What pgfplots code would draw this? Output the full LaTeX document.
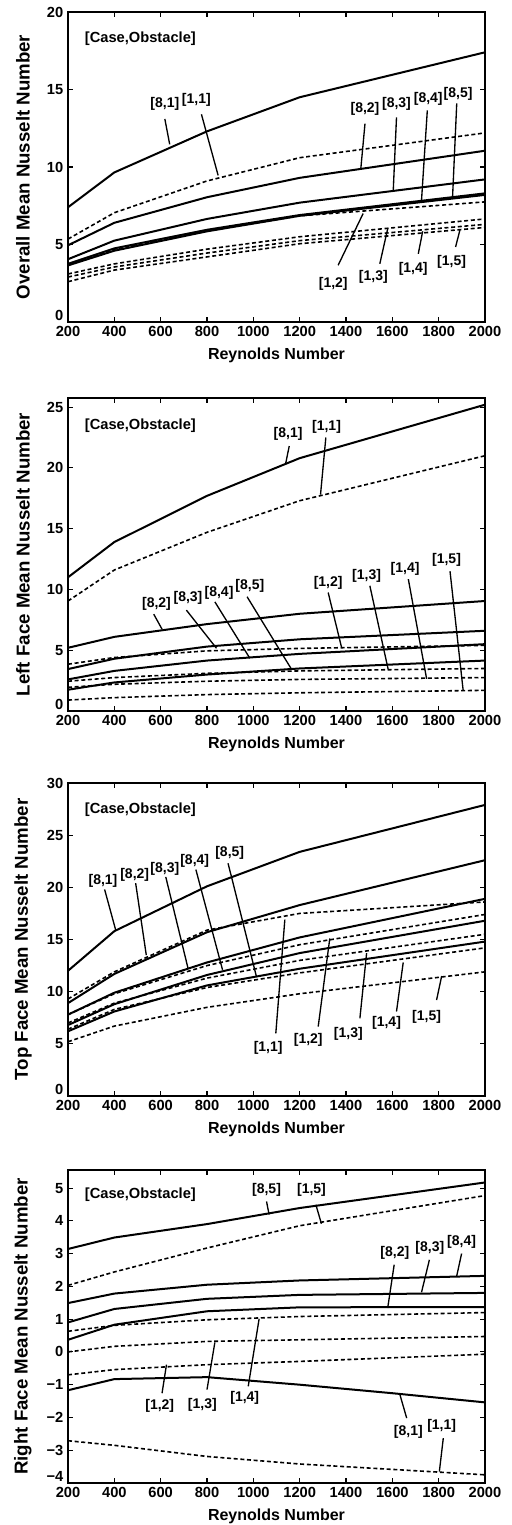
\documentclass[border=0pt]{standalone}
\usepackage{fontspec}
\setmainfont{Liberation Sans}
\usepackage{pgfplots}
\pgfplotsset{compat=1.18}
\tikzset{
 lead/.style={black, line width=1pt},
 lab/.style={font=\fontsize{10.5}{10.5}\selectfont\bfseries, inner sep=0pt},
 case/.style={font=\fontsize{11}{11}\selectfont\bfseries, inner sep=0pt, anchor=west},
}
\pgfplotsset{
 panel/.style={
  anchor=north west, scale only axis, width=312.75pt,
  xmin=200,xmax=2000, xtick={200,400,...,2000},
  axis line style={line width=1.3pt},
  tick style={line width=0.8pt, black}, major tick length=4pt,
  /pgf/number format/assume math mode=true,
  /pgf/number format/1000 sep={},
  tick label style={font=\fontsize{11}{11}\selectfont\bfseries},
  extra y tick style={yticklabel style={yshift=5pt}},
  xlabel={Reynolds Number},
  xlabel style={font=\fontsize{12}{12}\selectfont\bfseries, at={(axis description cs:0.5,-0.106)}, anchor=center},
  ylabel style={font=\fontsize{14}{14}\selectfont\bfseries, at={(axis description cs:-0.108,0.5)}, anchor=center},
  clip=false,
 },
 sol/.style={black, line width=1.5pt, no marks},
 das/.style={black, line width=1.2pt, dash pattern=on 3pt off 2pt, no marks},
}
\begin{document}
\begin{tikzpicture}
\path[use as bounding box] (0pt,0pt) rectangle (383.25pt,-1143.75pt);
% ---------------- Panel 1 ----------------
\begin{axis}[panel, at={(51pt,-9pt)}, height=232.5pt, ymin=0, ymax=20, ytick={5,10,15,20},
  extra y ticks={0},
  ylabel={Overall Mean Nusselt Number}]
\addplot[sol] coordinates {(200,7.4) (400,9.65) (800,12.3) (1200,14.5) (2000,17.4)};
\addplot[sol] coordinates {(200,4.95) (400,6.4) (800,8.05) (1200,9.3) (2000,11.05)};
\addplot[sol] coordinates {(200,4.05) (400,5.25) (800,6.65) (1200,7.7) (2000,9.2)};
\addplot[sol] coordinates {(200,3.75) (400,4.75) (800,5.95) (1200,6.9) (2000,8.3)};
\addplot[sol] coordinates {(200,3.65) (400,4.6) (800,5.85) (1200,6.85) (2000,8.2)};
\addplot[das] coordinates {(200,5.35) (400,7.05) (800,9.1) (1200,10.6) (2000,12.2)};
\addplot[das] coordinates {(200,3.7) (400,4.7) (800,5.9) (1200,6.85) (2000,7.75)};
\addplot[das] coordinates {(200,3.1) (400,3.75) (800,4.7) (1200,5.5) (2000,6.65)};
\addplot[das] coordinates {(200,2.9) (400,3.55) (800,4.45) (1200,5.25) (2000,6.3)};
\addplot[das] coordinates {(200,2.6) (400,3.35) (800,4.2) (1200,5.05) (2000,6.1)};
\node[case] at (axis cs:272,18.3) {[Case,Obstacle]};
\node[lab] at (axis cs:618,14.1) {[8,1]};
\draw[lead] (axis cs:618,13.1) -- (axis cs:639,11.46);
\node[lab] at (axis cs:754,14.3) {[1,1]};
\draw[lead] (axis cs:776,13.4) -- (axis cs:848,9.46);
\node[lab] at (axis cs:1482,13.76) {[8,2]};
\draw[lead] (axis cs:1482,12.8) -- (axis cs:1464,9.9);
\node[lab] at (axis cs:1618,14.1) {[8,3]};
\draw[lead] (axis cs:1618,13.2) -- (axis cs:1604,8.5);
\node[lab] at (axis cs:1755,14.4) {[8,4]};
\draw[lead] (axis cs:1751,13.65) -- (axis cs:1726,7.85);
\node[lab] at (axis cs:1884,14.7) {[8,5]};
\draw[lead] (axis cs:1878,14.1) -- (axis cs:1860,8.06);
\node[lab] at (axis cs:1345,2.47) {[1,2]};
\draw[lead] (axis cs:1366,3.66) -- (axis cs:1474,7.0);
\node[lab] at (axis cs:1518,2.9) {[1,3]};
\draw[lead] (axis cs:1546,3.76) -- (axis cs:1580,6.02);
\node[lab] at (axis cs:1690,3.44) {[1,4]};
\draw[lead] (axis cs:1712,4.4) -- (axis cs:1731,5.85);
\node[lab] at (axis cs:1856,3.87) {[1,5]};
\draw[lead] (axis cs:1873,4.84) -- (axis cs:1892,5.95);
\end{axis}
% ---------------- Panel 2 ----------------
\begin{axis}[panel, at={(51pt,-298.5pt)}, height=234.75pt, ymin=0, ymax=25.75, ytick={5,10,...,25},
  extra y ticks={0},
  ylabel={Left Face Mean Nusselt Number}]
\addplot[sol] coordinates {(200,11.0) (400,13.9) (800,17.7) (1200,20.8) (2000,25.2)};
\addplot[das] coordinates {(200,9.05) (400,11.6) (800,14.7) (1200,17.3) (2000,21.0)};
\addplot[sol] coordinates {(200,5.2) (400,6.1) (800,7.15) (1200,8.0) (2000,9.05)};
\addplot[sol] coordinates {(200,3.45) (400,4.3) (800,5.3) (1200,5.9) (2000,6.6)};
\addplot[sol] coordinates {(200,2.6) (400,3.3) (800,4.15) (1200,4.7) (2000,5.5)};
\addplot[sol] coordinates {(200,1.75) (400,2.35) (800,3.0) (1200,3.5) (2000,4.15)};
\addplot[das] coordinates {(200,3.85) (400,4.4) (800,4.95) (1200,5.15) (2000,5.4)};
\addplot[das] coordinates {(200,2.45) (400,2.75) (800,3.1) (1200,3.3) (2000,3.5)};
\addplot[das] coordinates {(200,1.95) (400,2.2) (800,2.45) (1200,2.6) (2000,2.75)};
\addplot[das] coordinates {(200,0.9) (400,1.1) (800,1.35) (1200,1.5) (2000,1.7)};
\node[case] at (axis cs:272,23.5) {[Case,Obstacle]};
\node[lab] at (axis cs:1150,22.8) {[8,1]};
\draw[lead] (axis cs:1155,21.8) -- (axis cs:1140,20.4);
\node[lab] at (axis cs:1316,23.35) {[1,1]};
\draw[lead] (axis cs:1313,22.5) -- (axis cs:1290,17.8);
\node[lab] at (axis cs:582,8.8) {[8,2]};
\draw[lead] (axis cs:570,7.97) -- (axis cs:606,6.73);
\node[lab] at (axis cs:718,9.34) {[8,3]};
\draw[lead] (axis cs:711,8.3) -- (axis cs:841,5.16);
\node[lab] at (axis cs:852,9.75) {[8,4]};
\draw[lead] (axis cs:834,8.98) -- (axis cs:985,4.34);
\node[lab] at (axis cs:985,10.3) {[8,5]};
\draw[lead] (axis cs:973,9.4) -- (axis cs:1165,3.43);
\node[lab] at (axis cs:1323,10.58) {[1,2]};
\draw[lead] (axis cs:1323,9.75) -- (axis cs:1381,5.22);
\node[lab] at (axis cs:1489,11.1) {[1,3]};
\draw[lead] (axis cs:1503,10.3) -- (axis cs:1582,3.43);
\node[lab] at (axis cs:1655,11.7) {[1,4]};
\draw[lead] (axis cs:1669,10.85) -- (axis cs:1748,2.65);
\node[lab] at (axis cs:1834,12.4) {[1,5]};
\draw[lead] (axis cs:1849,11.5) -- (axis cs:1906,1.65);
\end{axis}
% ---------------- Panel 3 ----------------
\begin{axis}[panel, at={(51pt,-587.25pt)}, height=234.75pt, ymin=0, ymax=30, ytick={5,10,...,30},
  extra y ticks={0},
  ylabel={Top Face Mean Nusselt Number}]
\addplot[sol] coordinates {(200,12.0) (400,15.8) (800,20.1) (1200,23.4) (2000,27.9)};
\addplot[sol] coordinates {(200,8.9) (400,11.7) (800,15.7) (1200,18.3) (2000,22.6)};
\addplot[sol] coordinates {(200,7.8) (400,9.9) (800,12.8) (1200,15.2) (2000,18.9)};
\addplot[sol] coordinates {(200,6.8) (400,8.8) (800,11.6) (1200,13.7) (2000,16.8)};
\addplot[sol] coordinates {(200,6.2) (400,8.1) (800,10.6) (1200,12.2) (2000,14.8)};
\addplot[das] coordinates {(200,9.3) (400,11.9) (800,15.9) (1200,17.5) (2000,18.6)};
\addplot[das] coordinates {(200,7.8) (400,9.8) (800,12.5) (1200,14.5) (2000,17.4)};
\addplot[das] coordinates {(200,7.0) (400,8.9) (800,11.3) (1200,13.0) (2000,15.5)};
\addplot[das] coordinates {(200,6.4) (400,8.3) (800,10.4) (1200,11.8) (2000,14.2)};
\addplot[das] coordinates {(200,5.2) (400,6.7) (800,8.5) (1200,9.8) (2000,11.9)};
\node[case] at (axis cs:272,27.4) {[Case,Obstacle]};
\node[lab] at (axis cs:351,20.6) {[8,1]};
\draw[lead] (axis cs:358,19.8) -- (axis cs:406,15.9);
\node[lab] at (axis cs:488,21.2) {[8,2]};
\draw[lead] (axis cs:492,20.4) -- (axis cs:538,13.5);
\node[lab] at (axis cs:618,21.8) {[8,3]};
\draw[lead] (axis cs:622,21.0) -- (axis cs:718,12.25);
\node[lab] at (axis cs:747,22.5) {[8,4]};
\draw[lead] (axis cs:752,21.7) -- (axis cs:867,12.1);
\node[lab] at (axis cs:898,23.3) {[8,5]};
\draw[lead] (axis cs:891,22.3) -- (axis cs:1014,11.4);
\node[lab] at (axis cs:1064,4.57) {[1,1]};
\draw[lead] (axis cs:1097,6.0) -- (axis cs:1136,16.9);
\node[lab] at (axis cs:1237,5.37) {[1,2]};
\draw[lead] (axis cs:1280,6.65) -- (axis cs:1330,15.1);
\node[lab] at (axis cs:1410,6.0) {[1,3]};
\draw[lead] (axis cs:1460,7.45) -- (axis cs:1489,13.7);
\node[lab] at (axis cs:1575,6.97) {[1,4]};
\draw[lead] (axis cs:1618,8.1) -- (axis cs:1647,12.8);
\node[lab] at (axis cs:1748,7.6) {[1,5]};
\draw[lead] (axis cs:1791,9.2) -- (axis cs:1813,11.5);
\end{axis}
% ---------------- Panel 4 ----------------
\begin{axis}[panel, at={(51pt,-877.5pt)}, height=234.75pt, ymin=-4, ymax=5.55, ytick={-3,-2,...,5},
  yticklabels={−3,−2,−1,0,1,2,3,4,5},
  extra y ticks={-4}, extra y tick labels={−4},
  ylabel={Right Face Mean Nusselt Number}]
\addplot[sol] coordinates {(200,3.14) (400,3.49) (800,3.9) (1200,4.39) (2000,5.17)};
\addplot[das] coordinates {(200,2.03) (400,2.44) (800,3.17) (1200,3.85) (2000,4.77)};
\addplot[sol] coordinates {(200,1.49) (400,1.78) (800,2.05) (1200,2.18) (2000,2.32)};
\addplot[sol] coordinates {(200,0.9) (400,1.31) (800,1.62) (1200,1.74) (2000,1.8)};
\addplot[sol] coordinates {(200,0.37) (400,0.83) (800,1.24) (1200,1.36) (2000,1.37)};
\addplot[das] coordinates {(200,0.63) (400,0.81) (800,0.98) (1200,1.08) (2000,1.2)};
\addplot[das] coordinates {(200,0.0) (400,0.17) (800,0.32) (1200,0.37) (2000,0.47)};
\addplot[das] coordinates {(200,-0.7) (400,-0.54) (800,-0.39) (1200,-0.29) (2000,-0.07)};
\addplot[sol] coordinates {(200,-1.17) (400,-0.83) (800,-0.77) (1200,-1.0) (1600,-1.26) (2000,-1.54)};
\addplot[das] coordinates {(200,-2.71) (400,-2.85) (800,-3.19) (1200,-3.42) (2000,-3.75)};
\node[case] at (axis cs:272,4.8) {[Case,Obstacle]};
\node[lab] at (axis cs:1057,4.95) {[8,5]};
\draw[lead] (axis cs:1057,4.59) -- (axis cs:1068,4.19);
\node[lab] at (axis cs:1251,4.95) {[1,5]};
\draw[lead] (axis cs:1270,4.49) -- (axis cs:1294,3.91);
\node[lab] at (axis cs:1611,3.02) {[8,2]};
\draw[lead] (axis cs:1608,2.66) -- (axis cs:1580,1.34);
\node[lab] at (axis cs:1762,3.17) {[8,3]};
\draw[lead] (axis cs:1760,2.81) -- (axis cs:1726,1.82);
\node[lab] at (axis cs:1899,3.37) {[8,4]};
\draw[lead] (axis cs:1899,3.0) -- (axis cs:1878,2.32);
\node[lab] at (axis cs:596,-1.66) {[1,2]};
\draw[lead] (axis cs:606,-1.26) -- (axis cs:625,-0.39);
\node[lab] at (axis cs:780,-1.61) {[1,3]};
\draw[lead] (axis cs:800,-1.15) -- (axis cs:834,0.29);
\node[lab] at (axis cs:963,-1.41) {[1,4]};
\draw[lead] (axis cs:978,-1.05) -- (axis cs:1025,1.01);
\node[lab] at (axis cs:1669,-2.43) {[8,1]};
\draw[lead] (axis cs:1662,-2.02) -- (axis cs:1633,-1.31);
\node[lab] at (axis cs:1813,-2.27) {[1,1]};
\draw[lead] (axis cs:1820,-2.63) -- (axis cs:1803,-3.65);
\end{axis}
\end{tikzpicture}
\end{document}
